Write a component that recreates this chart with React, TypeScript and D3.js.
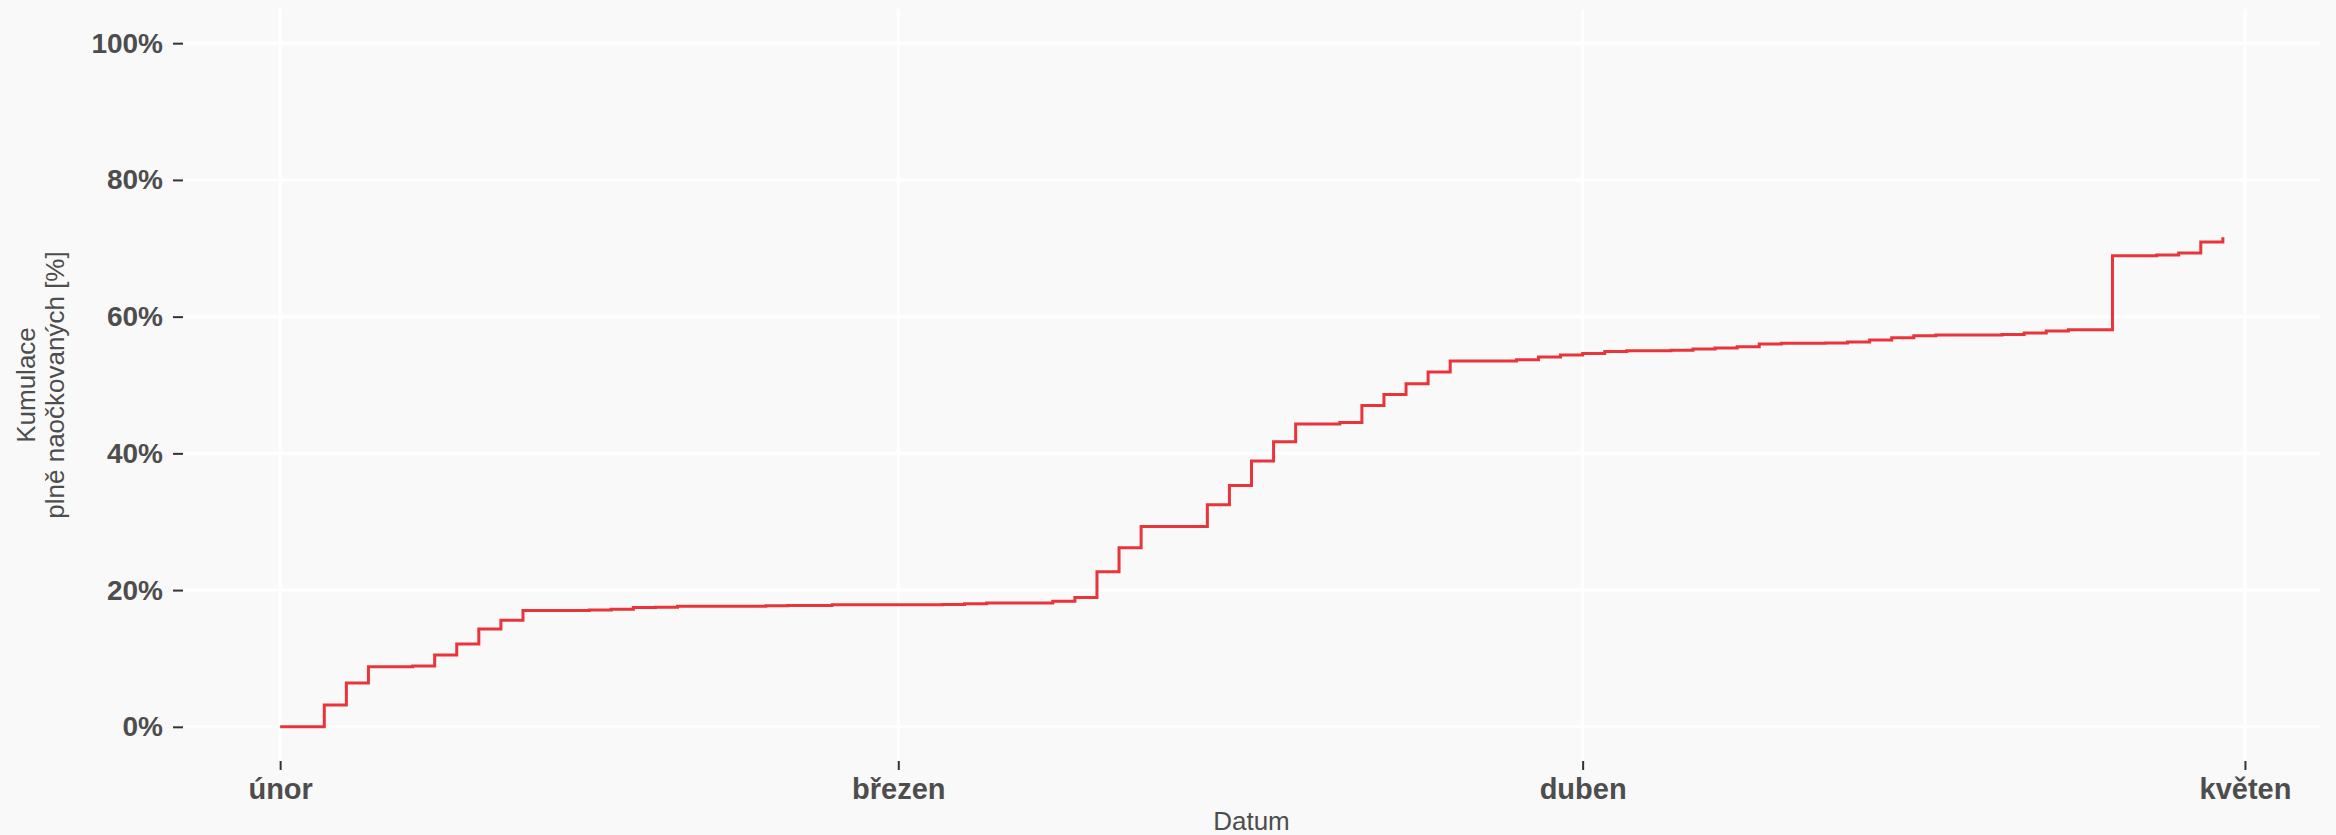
import { useEffect, useRef } from 'react';
import * as d3 from 'd3';

// Kumulace plně naočkovaných (%) podle data
const dates = [
  '2021-02-01', '2021-02-03', '2021-02-04', '2021-02-05', '2021-02-07', '2021-02-08',
  '2021-02-09', '2021-02-10', '2021-02-11', '2021-02-12', '2021-02-15', '2021-02-16',
  '2021-02-17', '2021-02-18', '2021-02-19', '2021-02-23', '2021-02-24', '2021-02-26',
  '2021-03-03', '2021-03-04', '2021-03-05', '2021-03-08', '2021-03-09', '2021-03-10',
  '2021-03-11', '2021-03-12', '2021-03-15', '2021-03-16', '2021-03-17', '2021-03-18',
  '2021-03-19', '2021-03-21', '2021-03-22', '2021-03-23', '2021-03-24', '2021-03-25',
  '2021-03-26', '2021-03-29', '2021-03-30', '2021-03-31', '2021-04-01', '2021-04-02',
  '2021-04-03', '2021-04-05', '2021-04-06', '2021-04-07', '2021-04-08', '2021-04-09',
  '2021-04-10', '2021-04-12', '2021-04-13', '2021-04-14', '2021-04-15', '2021-04-16',
  '2021-04-17', '2021-04-19', '2021-04-20', '2021-04-21', '2021-04-22', '2021-04-23',
  '2021-04-25', '2021-04-27', '2021-04-28', '2021-04-29', '2021-04-30',
];
const values = [
  0, 3.2, 6.4, 8.8, 8.9, 10.5,
  12.1, 14.3, 15.6, 17.0, 17.1, 17.2,
  17.45, 17.5, 17.65, 17.7, 17.75, 17.85,
  17.9, 18.0, 18.1, 18.35, 18.9, 22.7,
  26.2, 29.3, 32.5, 35.3, 38.9, 41.7,
  44.3, 44.5, 47.0, 48.6, 50.2, 51.9,
  53.5, 53.7, 54.1, 54.4, 54.6, 54.9,
  55.0, 55.1, 55.25, 55.4, 55.6, 56.0,
  56.1, 56.15, 56.3, 56.6, 56.9, 57.2,
  57.3, 57.32, 57.4, 57.6, 57.9, 58.1,
  68.9, 69.0, 69.3, 70.9, 71.6,
];
const yTicks = [0, 20, 40, 60, 80, 100];
const monthTicks = ['2021-02-01', '2021-03-01', '2021-04-01', '2021-05-01'];
const monthLabels = ['únor', 'březen', 'duben', 'květen'];

const W = 2336;
const H = 835;
const panel = { left: 183, right: 2320, top: 9, bottom: 761 };
const BG = '#f9f9f9';
const TEXT = '#4d4d4d';
const LINE = '#e8343a';
const FONT = '"Liberation Sans", Arial, sans-serif';

export default function App() {
  const svgRef = useRef<SVGSVGElement>(null);

  useEffect(() => {
    document.body.style.margin = '0';
    if (!svgRef.current) return;
    const svg = d3.select(svgRef.current);
    svg.selectAll('*').remove();

    const parse = d3.utcParse('%Y-%m-%d');
    const data = dates.map((d, i) => ({ date: parse(d) as Date, value: values[i] }));

    // ggplot-like 5% expansion on both axes
    const padX = ((panel.right - panel.left) / 1.1) * 0.05;
    const padY = ((panel.bottom - panel.top) / 1.1) * 0.05;

    const x = d3.scaleUtc()
      .domain(d3.extent(data, d => d.date) as [Date, Date])
      .range([panel.left + padX, panel.right - padX]);
    const y = d3.scaleLinear()
      .domain([0, 100])
      .range([panel.bottom - padY, panel.top + padY]);

    svg.append('rect').attr('width', W).attr('height', H).attr('fill', BG);

    // mřížka
    const grid = svg.append('g');
    grid.selectAll('line.h')
      .data(yTicks)
      .join('line')
      .attr('x1', panel.left).attr('x2', panel.right)
      .attr('y1', d => y(d)).attr('y2', d => y(d))
      .attr('stroke', '#ffffff').attr('stroke-width', 3);
    grid.selectAll('line.v')
      .data(monthTicks)
      .join('line')
      .attr('x1', d => x(parse(d) as Date)).attr('x2', d => x(parse(d) as Date))
      .attr('y1', panel.top).attr('y2', panel.bottom)
      .attr('stroke', '#ffffff').attr('stroke-width', 3);

    // schodová čára
    const line = d3.line<{ date: Date; value: number }>()
      .x(d => x(d.date))
      .y(d => y(d.value))
      .curve(d3.curveStepAfter);
    svg.append('path')
      .datum(data)
      .attr('fill', 'none')
      .attr('stroke', LINE)
      .attr('stroke-width', 3)
      .attr('d', line);

    // osa Y
    const yAxis = svg.append('g').attr('transform', `translate(${panel.left},0)`);
    yAxis.call(
      d3.axisLeft(y)
        .tickValues(yTicks)
        .tickFormat(d => `${d}%`)
        .tickSize(10)
        .tickPadding(10)
    );
    yAxis.select('.domain').remove();
    yAxis.selectAll('line').attr('stroke', '#333333').attr('stroke-width', 2);
    yAxis.selectAll('text')
      .attr('fill', TEXT)
      .style('font-family', FONT)
      .style('font-weight', 'bold')
      .style('font-size', '28px');

    // osa X
    const xAxis = svg.append('g').attr('transform', `translate(0,${panel.bottom})`);
    xAxis.call(
      d3.axisBottom(x)
        .tickValues(monthTicks.map(d => parse(d) as Date))
        .tickFormat((_, i) => monthLabels[i])
        .tickSize(9)
        .tickPadding(8)
    );
    xAxis.select('.domain').remove();
    xAxis.selectAll('line').attr('stroke', '#333333').attr('stroke-width', 2);
    xAxis.selectAll('text')
      .attr('fill', TEXT)
      .style('font-family', FONT)
      .style('font-weight', 'bold')
      .style('font-size', '29px');

    // popisky os
    svg.append('text')
      .attr('x', (panel.left + panel.right) / 2)
      .attr('y', 830)
      .attr('text-anchor', 'middle')
      .attr('fill', TEXT)
      .style('font-family', FONT)
      .style('font-size', '26px')
      .text('Datum');

    const yTitle = svg.append('text')
      .attr('transform', `translate(0,${(panel.top + panel.bottom) / 2}) rotate(-90)`)
      .attr('text-anchor', 'middle')
      .attr('fill', TEXT)
      .style('font-family', FONT)
      .style('font-size', '26px');
    yTitle.append('tspan').attr('x', 0).attr('y', 35).text('Kumulace');
    yTitle.append('tspan').attr('x', 0).attr('y', 64).text('plně naočkovaných [%]');
  }, []);

  return <svg ref={svgRef} width={W} height={H} style={{ display: 'block' }} />;
}
